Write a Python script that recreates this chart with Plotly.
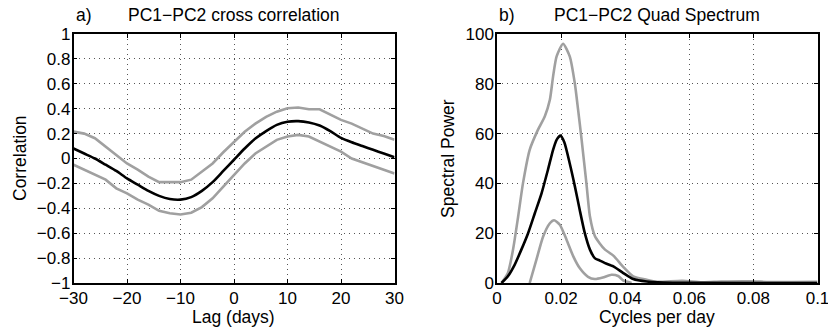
import plotly.graph_objects as go

# ---------------- Panel a) cross correlation ----------------
lag_days = [-30, -28, -26, -24, -22, -20, -18, -16, -14, -12, -10, -8, -6, -4, -2,
            0, 2, 4, 6, 8, 10, 12, 14, 16, 18, 20, 22, 24, 26, 28, 30]
corr_mean = [0.08, 0.04, 0.00, -0.05, -0.10, -0.16, -0.21, -0.26, -0.30, -0.325, -0.33,
             -0.31, -0.26, -0.19, -0.10, -0.01, 0.08, 0.16, 0.22, 0.27, 0.295, 0.30,
             0.29, 0.265, 0.22, 0.165, 0.13, 0.10, 0.07, 0.04, 0.01]
corr_upper = [0.216, 0.20, 0.163, 0.095, 0.028, -0.04, -0.09, -0.145, -0.19, -0.19, -0.19,
              -0.17, -0.105, -0.04, 0.05, 0.135, 0.215, 0.28, 0.335, 0.376, 0.404, 0.41,
              0.395, 0.395, 0.35, 0.31, 0.28, 0.24, 0.20, 0.18, 0.15]
corr_lower = [-0.05, -0.09, -0.13, -0.17, -0.24, -0.28, -0.33, -0.37, -0.42, -0.44, -0.45,
              -0.435, -0.39, -0.32, -0.225, -0.13, -0.04, 0.04, 0.095, 0.15, 0.176, 0.19,
              0.176, 0.135, 0.10, 0.055, 0.0, -0.03, -0.065, -0.095, -0.12]

# ---------------- Panel b) quad spectrum ----------------
freq_mean = [0.0014, 0.0034, 0.0055, 0.0076, 0.0097, 0.0118, 0.0139, 0.0159, 0.0175, 0.0186,
             0.0198, 0.021, 0.0227, 0.0243, 0.0258, 0.0274, 0.029, 0.0305, 0.0321, 0.0337,
             0.0363, 0.0394, 0.0425, 0.0467, 0.052, 0.06, 0.1]
spec_mean = [0, 2.7, 7.3, 13.4, 20, 28, 36, 45.5, 53.5, 57.5,
             59.2, 56.5, 48, 38.8, 29.4, 20, 13.4, 10, 9.0, 8,
             6.7, 4, 1.6, 0.6, 0.2, 0.05, 0]
freq_upper = [0.0014, 0.0034, 0.005, 0.0066, 0.0081, 0.0102, 0.0128, 0.0149, 0.0165, 0.0175,
              0.0186, 0.0206, 0.0227, 0.0243, 0.0253, 0.0264, 0.0279, 0.029, 0.0305, 0.032,
              0.0337, 0.0363, 0.0394, 0.0425, 0.0467, 0.0498, 0.0578, 0.064, 0.07, 0.079,
              0.085, 0.092, 0.1]
spec_upper = [0, 4, 13.4, 26.7, 40, 53.5, 61.6, 66.9, 73.6, 83,
              91, 96.1, 91, 80, 69.6, 57.6, 40, 26.7, 19, 16,
              13.4, 11, 6.5, 2.7, 1.3, 0.5, 0.9, 0.3, 0.6, 0.7,
              0.4, 0.4, 0.5]
freq_lower = [0.0102, 0.0123, 0.0144, 0.0165, 0.0178, 0.0196, 0.0217, 0.0238, 0.0258, 0.0284,
              0.0305, 0.033, 0.0357, 0.0378, 0.0394, 0.042]
spec_lower = [0, 9.4, 18.7, 24, 25.2, 23.4, 17.4, 10.7, 6, 2.5,
              1.6, 2.2, 3.3, 2.8, 1, 0]

corr_ticks = [-1, -0.8, -0.6, -0.4, -0.2, 0, 0.2, 0.4, 0.6, 0.8, 1]
corr_tick_text = ["\u22121", "\u22120.8", "\u22120.6", "\u22120.4", "\u22120.2", "0",
                  "0.2", "0.4", "0.6", "0.8", "1"]
lag_ticks = [-30, -20, -10, 0, 10, 20, 30]
lag_tick_text = ["\u221230", "\u221220", "\u221210", "0", "10", "20", "30"]
freq_ticks = [0, 0.02, 0.04, 0.06, 0.08, 0.1]
freq_tick_text = ["0", "0.02", "0.04", "0.06", "0.08", "0.1"]
power_ticks = [0, 20, 40, 60, 80, 100]

W, H = 828, 329
GRAY = "#a0a0a0"
FONT = "Liberation Sans, Arial, Helvetica, sans-serif"
FS = 17.5
TFS = 17

fig = go.Figure()
line_w = 2.6
fig.add_trace(go.Scatter(x=lag_days, y=corr_upper, mode="lines", line=dict(color=GRAY, width=line_w),
                         xaxis="x", yaxis="y", showlegend=False))
fig.add_trace(go.Scatter(x=lag_days, y=corr_lower, mode="lines", line=dict(color=GRAY, width=line_w),
                         xaxis="x", yaxis="y", showlegend=False))
fig.add_trace(go.Scatter(x=lag_days, y=corr_mean, mode="lines",
                         line=dict(color="black", width=line_w, shape="spline", smoothing=0.6),
                         xaxis="x", yaxis="y", showlegend=False))

fig.add_trace(go.Scatter(x=freq_upper, y=spec_upper, mode="lines",
                         line=dict(color=GRAY, width=line_w, shape="spline", smoothing=0.6),
                         xaxis="x2", yaxis="y2", showlegend=False))
fig.add_trace(go.Scatter(x=freq_lower, y=spec_lower, mode="lines",
                         line=dict(color=GRAY, width=line_w, shape="spline", smoothing=0.6),
                         xaxis="x2", yaxis="y2", showlegend=False))
fig.add_trace(go.Scatter(x=freq_mean, y=spec_mean, mode="lines",
                         line=dict(color="black", width=line_w, shape="spline", smoothing=0.6),
                         xaxis="x2", yaxis="y2", showlegend=False))

top_px, bot_px = 34, 283
ydom = [1 - bot_px / H, 1 - top_px / H]
xdom1 = [73.5 / W, 394.5 / W]
xdom2 = [497 / W, 817.5 / W]

axis_common = dict(
    automargin=False,
    showline=True, linecolor="black", linewidth=1.5, mirror="ticks",
    ticks="inside", ticklen=4, tickwidth=1, tickcolor="black",
    showgrid=True, gridcolor="#555555", gridwidth=1, griddash="1px,4px",
    zeroline=False, tickfont=dict(family=FONT, size=TFS, color="black"),
    ticklabeloverflow="allow",
)
xcommon = dict(axis_common, ticklabelstandoff=-1)
ycommon = dict(axis_common, ticklabelstandoff=-2)

fig.update_layout(
    width=W, height=H,
    margin=dict(l=0, r=0, t=0, b=0, autoexpand=False),
    paper_bgcolor="white", plot_bgcolor="white",
    font=dict(family=FONT, size=FS, color="black"),
    xaxis=dict(domain=xdom1, range=[-30, 30], tickmode="array", tickvals=lag_ticks,
               ticktext=lag_tick_text, anchor="y", **xcommon),
    yaxis=dict(domain=ydom, range=[-1, 1], tickmode="array", tickvals=corr_ticks,
               ticktext=corr_tick_text, anchor="x", **ycommon),
    xaxis2=dict(domain=xdom2, range=[0, 0.1], tickmode="array", tickvals=freq_ticks,
                ticktext=freq_tick_text, anchor="y2", **xcommon),
    yaxis2=dict(domain=ydom, range=[0, 100], tickmode="array", tickvals=power_ticks,
                anchor="x2", **ycommon),
)

def ann(text, x_px, y_px, angle=0, xanchor="center", size=FS):
    fig.add_annotation(text=text, x=x_px / W, y=1 - y_px / H, xref="paper", yref="paper",
                       showarrow=False, xanchor=xanchor, yanchor="middle", textangle=angle,
                       font=dict(family=FONT, size=size, color="black"))

ann("a)", 74, 15, xanchor="left")
ann("PC1\u2212PC2 cross correlation", 234, 15)
ann("b)", 497, 15, xanchor="left")
ann("PC1\u2212PC2 Quad Spectrum", 657, 15)
ann("Lag (days)", 234, 317)
ann("Cycles per day", 657, 317)
ann("Correlation", 20, 158, angle=-90)
ann("Spectral Power", 448, 158, angle=-90)

fig.write_html("out.html")
